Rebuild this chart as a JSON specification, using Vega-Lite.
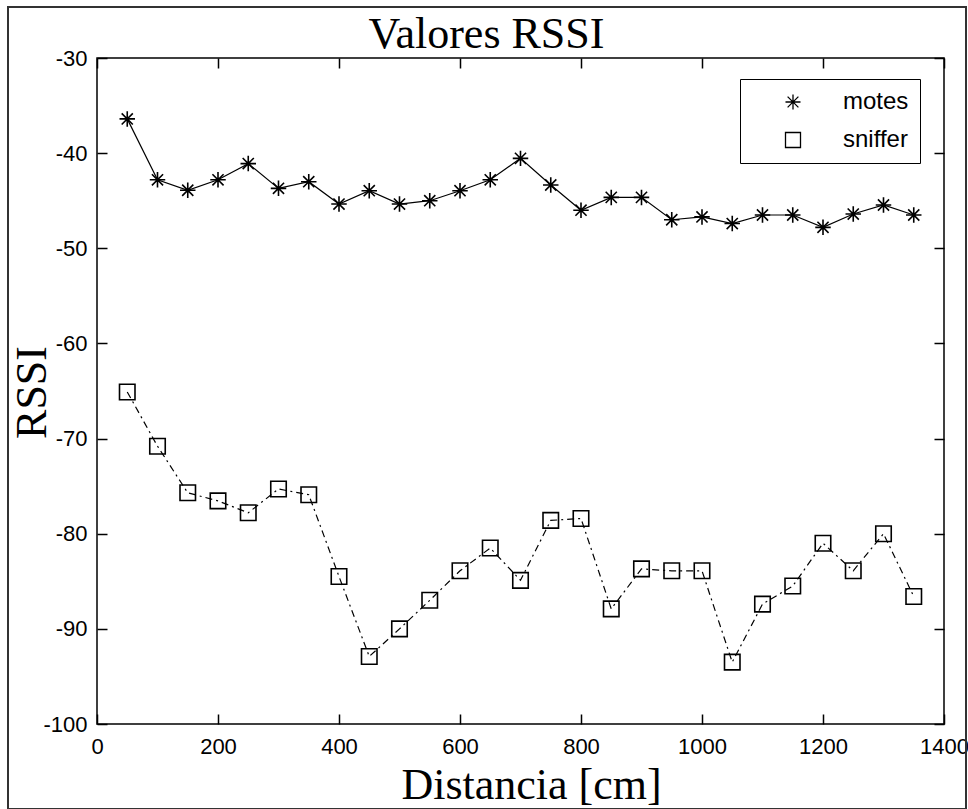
{
  "$schema": "https://vega.github.io/schema/vega-lite/v6.json",
  "autosize": {"type": "none"},
  "padding": {"left": 97, "top": 58, "right": 24, "bottom": 85},
  "width": 847,
  "height": 666,
  "background": "white",
  "config": {
    "view": {"stroke": "black", "strokeWidth": 1.5},
    "axis": {
      "domain": false,
      "ticks": false,
      "labelFont": "Liberation Sans",
      "labelFontSize": 22,
      "labelColor": "black",
      "titleFont": "Liberation Serif",
      "titleFontSize": 44,
      "titleFontWeight": "normal",
      "titleColor": "black"
    }
  },
  "data": {
    "values": [
      {"d": 50, "rssi": -36.4, "serie": "motes"},
      {"d": 100, "rssi": -42.8, "serie": "motes"},
      {"d": 150, "rssi": -43.9, "serie": "motes"},
      {"d": 200, "rssi": -42.8, "serie": "motes"},
      {"d": 250, "rssi": -41.1, "serie": "motes"},
      {"d": 300, "rssi": -43.7, "serie": "motes"},
      {"d": 350, "rssi": -43.0, "serie": "motes"},
      {"d": 400, "rssi": -45.35, "serie": "motes"},
      {"d": 450, "rssi": -43.95, "serie": "motes"},
      {"d": 500, "rssi": -45.35, "serie": "motes"},
      {"d": 550, "rssi": -45.0, "serie": "motes"},
      {"d": 600, "rssi": -43.95, "serie": "motes"},
      {"d": 650, "rssi": -42.8, "serie": "motes"},
      {"d": 700, "rssi": -40.55, "serie": "motes"},
      {"d": 750, "rssi": -43.35, "serie": "motes"},
      {"d": 800, "rssi": -46.0, "serie": "motes"},
      {"d": 850, "rssi": -44.65, "serie": "motes"},
      {"d": 900, "rssi": -44.65, "serie": "motes"},
      {"d": 950, "rssi": -47.0, "serie": "motes"},
      {"d": 1000, "rssi": -46.7, "serie": "motes"},
      {"d": 1050, "rssi": -47.4, "serie": "motes"},
      {"d": 1100, "rssi": -46.5, "serie": "motes"},
      {"d": 1150, "rssi": -46.5, "serie": "motes"},
      {"d": 1200, "rssi": -47.8, "serie": "motes"},
      {"d": 1250, "rssi": -46.4, "serie": "motes"},
      {"d": 1300, "rssi": -45.45, "serie": "motes"},
      {"d": 1350, "rssi": -46.5, "serie": "motes"},
      {"d": 50, "rssi": -65.1, "serie": "sniffer"},
      {"d": 100, "rssi": -70.8, "serie": "sniffer"},
      {"d": 150, "rssi": -75.7, "serie": "sniffer"},
      {"d": 200, "rssi": -76.55, "serie": "sniffer"},
      {"d": 250, "rssi": -77.8, "serie": "sniffer"},
      {"d": 300, "rssi": -75.3, "serie": "sniffer"},
      {"d": 350, "rssi": -75.9, "serie": "sniffer"},
      {"d": 400, "rssi": -84.5, "serie": "sniffer"},
      {"d": 450, "rssi": -92.9, "serie": "sniffer"},
      {"d": 500, "rssi": -90.0, "serie": "sniffer"},
      {"d": 550, "rssi": -87.0, "serie": "sniffer"},
      {"d": 600, "rssi": -83.9, "serie": "sniffer"},
      {"d": 650, "rssi": -81.5, "serie": "sniffer"},
      {"d": 700, "rssi": -84.9, "serie": "sniffer"},
      {"d": 750, "rssi": -78.6, "serie": "sniffer"},
      {"d": 800, "rssi": -78.4, "serie": "sniffer"},
      {"d": 850, "rssi": -87.9, "serie": "sniffer"},
      {"d": 900, "rssi": -83.7, "serie": "sniffer"},
      {"d": 950, "rssi": -83.9, "serie": "sniffer"},
      {"d": 1000, "rssi": -83.9, "serie": "sniffer"},
      {"d": 1050, "rssi": -93.5, "serie": "sniffer"},
      {"d": 1100, "rssi": -87.4, "serie": "sniffer"},
      {"d": 1150, "rssi": -85.5, "serie": "sniffer"},
      {"d": 1200, "rssi": -81.0, "serie": "sniffer"},
      {"d": 1250, "rssi": -83.9, "serie": "sniffer"},
      {"d": 1300, "rssi": -80.0, "serie": "sniffer"},
      {"d": 1350, "rssi": -86.6, "serie": "sniffer"}
    ]
  },
  "resolve": {"scale": {"x": "independent", "y": "independent"}, "axis": {"x": "independent", "y": "independent"}},
  "layer": [
    {
      "mark": {"type": "rect", "fill": null, "fillOpacity": 0, "stroke": "#333333", "strokeWidth": 1.5, "clip": false},
      "encoding": {
        "x": {"datum": -147, "type": "quantitative", "scale": {"domain": [0, 1400], "nice": false, "zero": false}, "axis": null},
        "x2": {"datum": 1436},
        "y": {"datum": -24.64, "type": "quantitative", "scale": {"domain": [-100, -30], "nice": false, "zero": false}, "axis": null},
        "y2": {"datum": -108.9}
      }
    },
    {
      "transform": [{"filter": "datum.serie === 'motes'"}],
      "mark": {"type": "line", "color": "black", "strokeWidth": 1.2},
      "encoding": {
        "x": {
          "field": "d", "type": "quantitative",
          "scale": {"domain": [0, 1400], "nice": false, "zero": false},
          "axis": {
            "orient": "bottom",
            "values": [0, 200, 400, 600, 800, 1000, 1200, 1400],
            "labelExpr": "'' + datum.value",
            "title": "Distancia [cm]",
            "labelPadding": 12,
            "grid": true,
            "gridColor": "black",
            "gridWidth": 1.5,
            "gridOpacity": 1,
            "gridDash": [10, 646],
            "titleX": 434,
            "titleY": 74,
            "titleBaseline": "alphabetic",
            "titleAnchor": null,
            "labelFlush": false
          }
        },
        "y": {
          "field": "rssi", "type": "quantitative",
          "scale": {"domain": [-100, -30], "nice": false, "zero": false},
          "axis": {
            "orient": "left",
            "values": [-100, -90, -80, -70, -60, -50, -40, -30],
            "labelExpr": "'' + datum.value",
            "title": "RSSI",
            "labelPadding": 10,
            "labelFlush": false,
            "grid": true,
            "gridColor": "black",
            "gridWidth": 1.5,
            "gridOpacity": 1,
            "gridDash": [10, 827],
            "titleX": -52,
            "titleY": 334,
            "titleAngle": -90,
            "titleBaseline": "alphabetic",
            "titleAlign": "center",
            "titleAnchor": null
          }
        }
      }
    },
    {
      "transform": [{"filter": "datum.serie === 'sniffer'"}],
      "mark": {"type": "line", "color": "black", "strokeWidth": 1.2, "strokeDash": [7, 4, 2, 4]},
      "encoding": {
        "x": {
          "field": "d", "type": "quantitative",
          "scale": {"domain": [0, 1400], "nice": false, "zero": false},
          "axis": null
        },
        "y": {
          "field": "rssi", "type": "quantitative",
          "scale": {"domain": [-100, -30], "nice": false, "zero": false},
          "axis": null
        }
      }
    },
    {
      "mark": {"type": "point", "filled": false, "color": "black", "strokeWidth": 1.6, "opacity": 1, "size": 240},
      "encoding": {
        "x": {
          "field": "d", "type": "quantitative",
          "scale": {"domain": [0, 1400], "nice": false, "zero": false},
          "axis": {
            "orient": "top",
            "values": [0, 200, 400, 600, 800, 1000, 1200, 1400],
            "labels": false,
            "grid": false,
            "title": "Valores RSSI",
            "titleX": 389,
            "titleY": -11,
            "titleBaseline": "alphabetic",
            "titleAlign": "center",
            "titleAnchor": null
          }
        },
        "y": {
          "field": "rssi", "type": "quantitative",
          "scale": {"domain": [-100, -30], "nice": false, "zero": false},
          "axis": null
        },
        "shape": {
          "field": "serie", "type": "nominal",
          "scale": {
            "domain": ["motes", "sniffer"],
            "range": ["M-1,0H1M0,-1V1M-0.72,-0.72L0.72,0.72M-0.72,0.72L0.72,-0.72", "square"]
          },
          "legend": {
            "title": null,
            "orient": "none",
            "legendX": 643,
            "legendY": 21,
            "padding": 11,
            "strokeColor": "black",
            "fillColor": "white",
            "labelFont": "Liberation Sans",
            "labelFontSize": 24,
            "labelColor": "black",
            "symbolSize": 225,
            "symbolOffset": 30,
            "labelOffset": 38,
            "rowPadding": 14,
            "symbolStrokeColor": "black",
            "symbolStrokeWidth": 1.3,
            "symbolFillColor": "transparent"
          }
        }
      }
    }
  ]
}
